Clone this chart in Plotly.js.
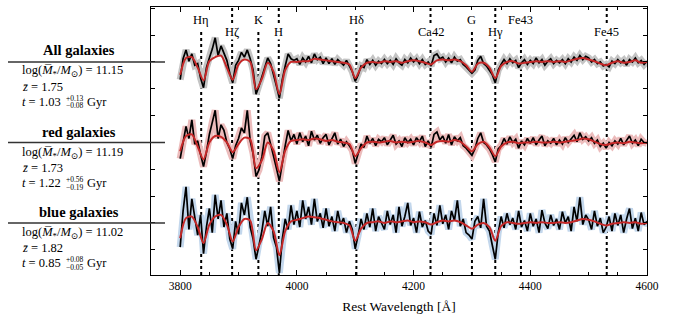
<!DOCTYPE html>
<html>
<head>
<meta charset="utf-8">
<script src="https://cdn.plot.ly/plotly-3.0.1.min.js"></script>
<style>
  html, body { margin: 0; padding: 0; background: #fff; }
  #plot { width: 697px; height: 321px; }
</style>
</head>
<body>
<div id="plot"></div>
<script>
// rest wavelength grid (Angstrom)
var waveStart = 3800;
var dataStep = 5;
var modelStep = 10;

// stacked spectra, continuum normalised to 1
var groupNames = ['All galaxies', 'red galaxies', 'blue galaxies'];
var groupOffsets = [1, 0, -1];
var groupMass = ['11.15', '11.19', '11.02'];
var groupZ = ['1.75', '1.73', '1.82'];
var groupAge = ['1.03', '1.22', '0.85'];
var groupAgeUp = ['+0.13', '+0.56', '+0.08'];
var groupAgeLo = ['\u22120.08', '\u22120.19', '\u22120.05'];
var bandColors = ['#c4c4c4', '#ecbcbc', '#c3d7ec'];

var fluxAll = [
  0.78, 1.04, 1.15, 1.01, 1.10, 0.96, 0.98, 0.80, 0.68, 0.93,
  1.05, 1.16, 1.30, 1.08, 1.20, 1.12, 1.02, 0.86, 0.74, 0.96,
  1.02, 1.12, 1.06, 1.15, 1.04, 0.90, 0.60, 0.70, 0.82, 0.95,
  1.05, 0.98, 0.85, 0.70, 0.55, 0.78, 0.95, 1.10, 1.04, 1.02,
  1.04, 0.97, 1.05, 1.00, 1.07, 0.99, 1.10, 1.03, 1.06, 0.98,
  1.05, 0.98, 1.04, 0.97, 1.03, 1.00, 0.96, 1.02, 0.95, 0.88,
  0.76, 0.84, 0.95, 0.93, 1.03, 0.97, 1.02, 0.96, 1.01, 0.98,
  1.03, 0.98, 1.02, 0.97, 1.04, 0.99, 0.96, 1.03, 0.99, 1.05,
  1.00, 1.04, 0.98, 1.03, 0.97, 1.00, 0.95, 1.08, 1.10, 1.04,
  1.06, 1.00, 1.05, 0.99, 1.06, 1.01, 1.03, 0.97, 0.94, 0.90,
  0.86, 0.90, 1.02, 1.07, 0.98, 0.95, 0.90, 0.84, 0.74, 0.90,
  0.97, 1.03, 0.98, 1.04, 0.99, 1.02, 0.93, 0.99, 1.03, 0.97,
  1.02, 0.98, 1.05, 0.99, 1.03, 0.96, 1.01, 1.04, 0.98, 1.02,
  0.99, 1.03, 0.98, 1.04, 1.00, 1.06, 1.02, 1.08, 1.03, 1.07,
  1.05, 1.00, 1.03, 0.98, 1.00, 0.95, 0.97, 0.94, 1.01, 0.98,
  1.03, 0.99, 1.02, 0.96, 1.03, 1.00, 1.05, 0.99, 1.02, 0.97,
  1.01
];
var fluxRed = [
  0.80, 1.00, 1.20, 1.05, 1.28, 0.98, 1.02, 0.85, 0.70, 0.88,
  1.10, 1.25, 1.40, 1.05, 1.22, 1.15, 1.00, 0.92, 0.80, 0.96,
  1.05, 1.18, 1.12, 1.40, 1.02, 0.86, 0.58, 0.66, 0.82, 1.08,
  1.12, 0.98, 0.84, 0.68, 0.52, 0.75, 0.96, 1.15, 1.02, 1.10,
  0.98, 1.12, 1.01, 1.08, 0.96, 1.14, 1.03, 1.09, 0.99, 1.06,
  1.10, 0.97, 1.05, 1.12, 0.98, 1.04, 0.95, 1.01, 0.96, 0.90,
  0.74, 0.86, 0.98, 0.94, 1.08, 0.99, 1.05, 0.96, 1.04, 1.01,
  1.06, 0.97, 1.04, 1.09, 0.98, 1.02, 0.95, 1.06, 1.00, 1.04,
  0.97, 1.06, 1.01, 1.08, 0.95, 1.02, 0.94, 1.10, 1.13, 1.03,
  1.08, 0.99, 1.10, 0.97, 1.07, 1.02, 1.06, 0.96, 0.93, 0.88,
  0.84, 0.92, 1.05, 1.12, 1.00, 0.97, 0.92, 0.85, 0.76, 0.92,
  0.96, 1.05, 0.98, 1.07, 1.00, 1.04, 0.93, 1.02, 0.97, 1.05,
  0.99, 1.06, 0.97, 1.03, 1.08, 0.96, 1.02, 0.99, 1.05, 0.97,
  1.03, 0.98, 1.06, 1.00, 1.04, 1.09, 1.01, 1.12, 1.04, 1.07,
  1.02, 1.06, 0.99, 1.03, 0.95, 0.99, 0.93, 1.00, 0.96, 1.02,
  0.98, 1.05, 0.97, 1.02, 1.08, 0.99, 1.03, 0.96, 1.04, 1.00,
  0.99
];
var fluxBlue = [
  0.70, 1.15, 1.45, 0.92, 1.30, 1.05, 0.85, 1.10, 0.62, 0.95,
  1.18, 0.88, 1.35, 1.05, 1.28, 0.95, 1.12, 0.80, 0.68, 1.02,
  0.86, 1.25, 1.10, 1.32, 0.95, 0.80, 0.55, 0.72, 0.90, 1.15,
  0.96, 1.20, 0.82, 0.70, 0.38, 0.80, 1.05, 0.92, 1.22, 0.98,
  1.15, 0.95, 1.28, 1.05, 1.20, 0.98, 1.30, 1.02, 1.12, 0.94,
  1.18, 0.96, 1.08, 0.90, 1.15, 0.98, 1.06, 0.88, 1.02, 0.92,
  0.68, 0.85, 1.05, 0.92, 1.12, 0.95, 1.18, 0.90, 1.08, 1.00,
  0.92, 1.15, 0.98, 1.10, 0.88, 1.20, 0.96, 1.08, 1.25, 0.97,
  1.06, 0.88, 1.14, 0.95, 1.03, 0.90, 0.86, 1.12, 0.97, 1.22,
  0.99, 1.10, 0.92, 1.15, 1.03, 1.28, 0.96, 1.05, 0.88, 0.85,
  0.80, 1.02, 1.08, 0.94, 1.30, 0.96, 0.90, 0.72, 0.55, 0.88,
  1.08, 0.94, 1.12, 0.98, 1.06, 0.92, 1.15, 0.95, 1.03, 0.90,
  1.12, 0.96, 1.05, 0.88, 1.16, 1.00, 0.93, 1.10, 0.97, 1.05,
  0.92, 1.14, 1.00, 1.08, 0.90, 1.20, 1.02, 1.32, 0.98, 1.10,
  1.04, 0.92, 1.15, 0.96, 1.06, 0.88, 0.95, 1.08, 0.90, 1.12,
  0.97, 1.10, 0.88, 1.05, 1.18, 0.93, 1.06, 0.90, 1.13, 0.98,
  1.02
];

// best-fit models (10 A steps)
var modelAll = [
  0.84, 1.05, 1.06, 0.93, 0.77, 1.01, 1.06, 1.08, 0.93, 0.78,
  0.97, 1.03, 1.00, 0.66, 0.79, 0.99, 0.88, 0.60, 0.90, 1.00,
  1.00, 1.01, 1.01, 1.04, 1.03, 1.02, 1.01, 1.00, 0.99, 0.97,
  0.80, 0.93, 0.99, 1.00, 0.99, 1.01, 1.00, 1.01, 0.99, 1.01,
  1.02, 1.01, 0.99, 0.97, 1.02, 1.03, 1.02, 1.03, 1.01, 0.96,
  0.88, 0.98, 0.99, 0.93, 0.80, 0.95, 1.00, 1.01, 0.98, 0.99,
  1.00, 1.01, 1.00, 1.01, 1.00, 1.01, 1.00, 1.02, 1.04, 1.05,
  1.03, 1.01, 0.98, 0.96, 0.99, 1.01, 0.99, 1.00, 1.02, 0.99,
  1.00
];
var modelRed = [
  0.89, 1.08, 1.10, 0.95, 0.79, 1.00, 1.08, 1.07, 1.00, 0.88,
  0.98, 1.06, 1.04, 0.68, 0.78, 1.00, 0.90, 0.63, 0.90, 1.02,
  1.03, 1.04, 1.03, 1.05, 1.04, 1.02, 1.03, 1.01, 1.00, 0.98,
  0.83, 0.93, 1.00, 1.01, 1.00, 1.01, 1.02, 1.00, 1.01, 1.00,
  1.01, 1.02, 1.00, 0.97, 1.01, 1.02, 1.01, 1.03, 1.01, 0.95,
  0.89, 0.98, 1.01, 0.94, 0.83, 0.95, 1.00, 1.01, 0.99, 1.00,
  1.00, 1.01, 1.00, 1.00, 1.01, 1.00, 1.01, 1.02, 1.03, 1.05,
  1.04, 1.01, 0.98, 0.97, 0.99, 1.00, 0.99, 1.01, 1.00, 0.99,
  1.00
];
var modelBlue = [
  0.81, 1.06, 1.08, 0.95, 0.75, 0.98, 1.08, 1.10, 0.98, 0.77,
  0.95, 1.05, 1.03, 0.66, 0.80, 1.00, 0.90, 0.60, 0.90, 1.02,
  1.04, 1.06, 1.08, 1.07, 1.06, 1.04, 1.02, 1.01, 1.00, 0.97,
  0.78, 0.93, 1.00, 1.01, 1.02, 1.00, 1.02, 1.01, 1.02, 1.03,
  1.01, 1.02, 1.01, 0.98, 1.01, 1.03, 1.02, 1.03, 1.01, 0.97,
  0.93, 0.98, 1.00, 0.95, 0.78, 0.96, 1.01, 1.00, 0.99, 1.00,
  1.01, 1.00, 1.01, 1.00, 1.00, 1.01, 1.00, 1.01, 1.03, 1.05,
  1.04, 1.02, 0.99, 0.97, 0.99, 1.00, 1.01, 1.00, 1.01, 0.99,
  1.00
];

// absorption features
var lineNames = ['H\u03b7', 'H\u03b6', 'K', 'H', 'H\u03b4', 'Ca42', 'G', 'H\u03b3', 'Fe43', 'Fe45'];
var lineWaves = [3836, 3889, 3934, 3969, 4102, 4229, 4300, 4340, 4384, 4531];
var lineRow = [0, 1, 0, 1, 0, 1, 0, 1, 0, 1];

var fluxes = [fluxAll, fluxRed, fluxBlue];
var models = [modelAll, modelRed, modelBlue];

var serif = "'Liberation Serif', 'DejaVu Serif', serif";
var traces = [];
fluxes.forEach(function (f, i) {
  var off = groupOffsets[i];
  var y = f.map(function (v) { return v + off; });
  traces.push({
    y: y, x0: waveStart, dx: dataStep, type: 'scatter', mode: 'lines',
    line: {color: bandColors[i], width: 7}, hoverinfo: 'skip'
  });
  traces.push({
    y: y, x0: waveStart, dx: dataStep, type: 'scatter', mode: 'lines',
    line: {color: '#000', width: 1.7}
  });
  traces.push({
    y: models[i].map(function (v) { return v + off; }),
    x0: waveStart, dx: modelStep, type: 'scatter', mode: 'lines',
    line: {color: '#c62828', width: 2, shape: 'spline', smoothing: 0.8}
  });
});

var shapes = [];
var annotations = [];
lineWaves.forEach(function (w, i) {
  shapes.push({
    type: 'line', xref: 'x', yref: 'paper', x0: w, x1: w, y0: 0,
    y1: lineRow[i] === 0 ? 0.915 : 1, layer: 'below',
    line: {color: '#000', width: 2, dash: 'dot'}
  });
  annotations.push({
    xref: 'x', yref: 'paper', x: w, y: lineRow[i] === 0 ? 0.951 : 0.907,
    xanchor: 'center', yanchor: 'middle',
    text: lineNames[i], showarrow: false, bgcolor: '#fff', borderpad: 0,
    font: {family: serif, size: 12.5, color: '#000'}
  });
});

// left-hand labels; pixel rows converted to paper units
var plotTop = 7, plotH = 268, plotL = 151, plotW = 496;
function px(xp) { return (xp - plotL) / plotW; }
function py(yp) { return (plotTop + plotH - yp) / plotH; }
var rowTop = [50, 131.7, 211.7];

function note(x, y, text, size, anchor) {
  return {
    xref: 'paper', yref: 'paper', x: px(x), y: py(y),
    xanchor: anchor || 'left', yanchor: 'middle', text: text,
    showarrow: false, borderpad: 0,
    font: {family: serif, size: size, color: '#000'}
  };
}

groupNames.forEach(function (name, i) {
  var t = rowTop[i];
  shapes.push({
    type: 'line', xref: 'paper', yref: 'y', x0: px(8), x1: px(165),
    y0: groupOffsets[i] + 1, y1: groupOffsets[i] + 1,
    line: {color: '#333', width: 1.5}
  });
  annotations.push(note(79, t, '<b>' + name + '</b>', 14.5, 'center'));
  annotations.push(note(21, t + 21.5,
    'log(<i>M\u0305</i><sub>*</sub>/<i>M</i><sub>\u2299</sub>) = ' + groupMass[i], 12.5));
  annotations.push(note(21, t + 36.5, '<i>z\u0304</i> = ' + groupZ[i], 12.5));
  annotations.push(note(21, t + 51.5, '<i>t</i> = ' + groupAge[i], 12.5));
  annotations.push(note(65, t + 48, groupAgeUp[i], 7.5));
  annotations.push(note(65, t + 55.5, groupAgeLo[i], 7.5));
  annotations.push(note(86, t + 51.5, 'Gyr', 12.5));
});

var layout = {
  width: 697, height: 321,
  margin: {l: 151, r: 50, t: 7, b: 46},
  paper_bgcolor: '#fff', plot_bgcolor: '#fff',
  showlegend: false,
  font: {family: serif, color: '#000'},
  xaxis: {
    range: [3750, 4600], tick0: 3800, dtick: 200,
    ticks: 'inside', ticklen: 5, tickcolor: '#000',
    showline: true, linecolor: '#000', linewidth: 1, mirror: 'allticks',
    showgrid: false, zeroline: false,
    tickfont: {family: serif, size: 11.5, color: '#000'},
    minor: {dtick: 50, ticks: 'inside', ticklen: 3, tickcolor: '#000'},
    title: {text: 'Rest Wavelength [\u00c5]', font: {family: serif, size: 13.5, color: '#000'}, standoff: 10}
  },
  yaxis: {
    range: [-0.646, 2.683], tick0: 0, dtick: 1 / 3,
    ticks: 'inside', ticklen: 4, tickcolor: '#000',
    showticklabels: false,
    showline: true, linecolor: '#000', linewidth: 1, mirror: 'allticks',
    showgrid: false, zeroline: false
  },
  shapes: shapes,
  annotations: annotations
};

Plotly.newPlot('plot', traces, layout, {displayModeBar: false, staticPlot: true});
</script>
</body>
</html>
